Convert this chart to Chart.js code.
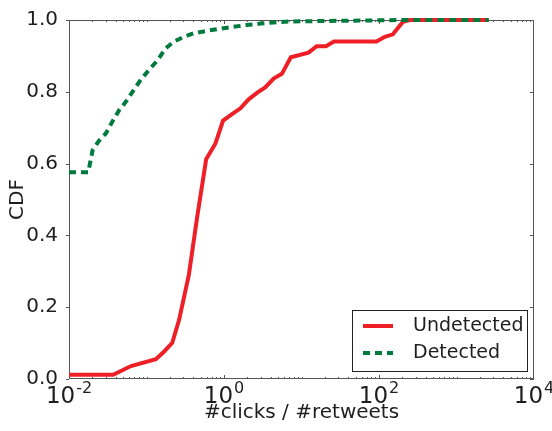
<!DOCTYPE html>
<html>
<head>
<meta charset="utf-8">
<script src="https://cdn.jsdelivr.net/npm/chart.js@4"></script>
<style>
  body { margin: 0; background: #fff; }
  #wrap { width: 552px; height: 431px; }
</style>
</head>
<body>
<div id="wrap"><canvas id="cdf"></canvas></div>
<script>
// CDF of clicks per retweet
const undetX = [0.01, 0.0372, 0.063, 0.132, 0.168, 0.215, 0.263, 0.352, 0.451, 0.589, 0.776, 0.973,
                1.27, 1.63, 2.08, 2.66, 3.40, 4.37, 5.58, 7.28, 12.3, 15.7, 20.7, 26.2, 92.9,
                119, 151, 204, 249, 2600];
const undetY = [0.012, 0.012, 0.036, 0.055, 0.076, 0.101, 0.164, 0.29, 0.452, 0.612, 0.656, 0.72,
                0.738, 0.754, 0.779, 0.797, 0.812, 0.837, 0.85, 0.896, 0.909, 0.927, 0.927, 0.94, 0.94,
                0.953, 0.96, 0.995, 1.0, 1.0];

const detX = [0.01, 0.0177, 0.0202, 0.0245, 0.0299, 0.0363, 0.0444, 0.0541, 0.0659, 0.0841, 0.1076,
              0.138, 0.1766, 0.226, 0.303, 0.407, 0.607, 0.9, 1.33, 1.98, 2.94, 4.36, 7.13, 200, 2600];
const detY = [0.576, 0.576, 0.638, 0.664, 0.684, 0.717, 0.749, 0.772, 0.8, 0.833, 0.861,
              0.887, 0.921, 0.94, 0.953, 0.963, 0.97, 0.976, 0.981, 0.986, 0.99, 0.993, 0.996, 1.0, 1.0];

const seriesNames = ["Undetected", "Detected"];
const xTicks = [0.01, 1, 100, 10000];
const xTickBase = "10";
const xTickExp = ["-2", "0", "2", "4"];
const yTicks = [0, 0.2, 0.4, 0.6, 0.8, 1.0];

const RED = "#ee1f27";
const GREEN = "#007a3d";
const AXIS = "#555";
const TEXT = "#1e1e1e";
const FONT = "DejaVu Sans";

function pts(xs, ys) {
    return xs.map((x, i) => ({ x: x, y: ys[i] }));
}

// frame + inward ticks like a matplotlib axes box, and 10^n labels
const frameTicks = {
    id: "frameTicks",
    beforeDatasetsDraw(chart) {
        const { ctx, chartArea: a, scales } = chart;
        const xs = scales.x, ys = scales.y;
        ctx.save();
        ctx.strokeStyle = AXIS;
        ctx.lineWidth = 1;
        ctx.strokeRect(a.left + 0.5, a.top + 0.5, a.right - a.left - 1, a.bottom - a.top - 1);
        ctx.beginPath();
        for (let e = -2; e <= 3; e++) {
            for (let k = 1; k <= 9; k++) {
                const v = k * Math.pow(10, e);
                const px = Math.round(xs.getPixelForValue(v)) + 0.5;
                const len = (k === 1 && e % 2 === 0) ? 4 : 2;
                ctx.moveTo(px, a.bottom);
                ctx.lineTo(px, a.bottom - len);
                ctx.moveTo(px, a.top);
                ctx.lineTo(px, a.top + len);
            }
        }
        yTicks.forEach(v => {
            const py = Math.round(ys.getPixelForValue(v)) + 0.5;
            ctx.moveTo(a.left, py);
            ctx.lineTo(a.left - 3, py);
            ctx.moveTo(a.right, py);
            ctx.lineTo(a.right - 4, py);
        });
        ctx.stroke();

        // log tick labels with a raised exponent
        ctx.fillStyle = TEXT;
        ctx.textBaseline = "alphabetic";
        ctx.textAlign = "left";
        xTicks.forEach((v, i) => {
            const px = xs.getPixelForValue(v);
            ctx.font = "23px '" + FONT + "'";
            const wb = ctx.measureText(xTickBase).width;
            ctx.font = "16px '" + FONT + "'";
            const we = ctx.measureText(xTickExp[i]).width;
            const x0 = px - (wb + we + 1) / 2;
            ctx.font = "23px '" + FONT + "'";
            ctx.fillText(xTickBase, x0, a.bottom + 24);
            ctx.font = "16px '" + FONT + "'";
            ctx.fillText(xTickExp[i], x0 + wb + 1, a.bottom + 14);
        });
        ctx.restore();
    }
};

// boxed legend in the lower right corner of the plot
const cornerLegend = {
    id: "cornerLegend",
    afterDatasetsDraw(chart) {
        const { ctx, chartArea: a } = chart;
        const w = 175, h = 61;
        const left = a.right - 7 - w, top = a.bottom - 8 - h;
        ctx.save();
        ctx.fillStyle = "#fff";
        ctx.fillRect(left, top, w, h);
        ctx.strokeStyle = "#222";
        ctx.lineWidth = 1;
        ctx.strokeRect(left + 0.5, top + 0.5, w, h);
        ctx.font = "19px '" + FONT + "'";
        ctx.textBaseline = "middle";
        chart.data.datasets.forEach((ds, i) => {
            const rowY = top + 16 + i * 27;
            ctx.strokeStyle = ds.borderColor;
            ctx.lineWidth = ds.borderWidth;
            ctx.setLineDash(ds.borderDash || []);
            ctx.beginPath();
            ctx.moveTo(left + 11, rowY);
            ctx.lineTo(left + 41, rowY);
            ctx.stroke();
            ctx.setLineDash([]);
            ctx.fillStyle = TEXT;
            ctx.fillText(ds.label, left + 61, rowY);
        });
        ctx.restore();
    }
};

new Chart(document.getElementById("cdf"), {
    type: "line",
    data: {
        datasets: [
            {
                label: seriesNames[0],
                data: pts(undetX, undetY),
                borderColor: RED,
                borderWidth: 4,
                pointRadius: 0,
                tension: 0,
                clip: false,
                order: 1
            },
            {
                label: seriesNames[1],
                data: pts(detX, detY),
                borderColor: GREEN,
                borderWidth: 4,
                borderDash: [7, 5],
                pointRadius: 0,
                tension: 0,
                clip: false,
                order: 0
            }
        ]
    },
    options: {
        responsive: true,
        maintainAspectRatio: false,
        animation: false,
        layout: { padding: { top: 20, right: 18, left: 0, bottom: 0 } },
        plugins: {
            legend: { display: false },
            tooltip: { enabled: false }
        },
        scales: {
            x: {
                type: "logarithmic",
                min: 0.01,
                max: 10000,
                grid: { display: false },
                border: { display: false },
                afterBuildTicks: s => { s.ticks = xTicks.map(v => ({ value: v })); },
                afterFit: s => { s.height = 52; s.paddingLeft = 0; s.paddingRight = 0; },
                ticks: { display: false },
                title: {
                    display: true,
                    text: "#clicks / #retweets",
                    color: TEXT,
                    font: { family: FONT, size: 20, lineHeight: 1 },
                    padding: { top: 0, bottom: 8 }
                }
            },
            y: {
                min: 0,
                max: 1,
                grid: { display: false },
                border: { display: false },
                afterBuildTicks: s => { s.ticks = yTicks.map(v => ({ value: v })); },
                afterFit: s => { s.width = 69; s.paddingTop = 0; s.paddingBottom = 0; },
                ticks: {
                    padding: 3,
                    color: TEXT,
                    font: { family: FONT, size: 20 },
                    callback: v => v.toFixed(1)
                },
                title: {
                    display: true,
                    text: "CDF",
                    color: TEXT,
                    font: { family: FONT, size: 20 },
                    padding: { top: 6, bottom: 0 }
                }
            }
        }
    },
    plugins: [frameTicks, cornerLegend]
});
</script>
</body>
</html>
